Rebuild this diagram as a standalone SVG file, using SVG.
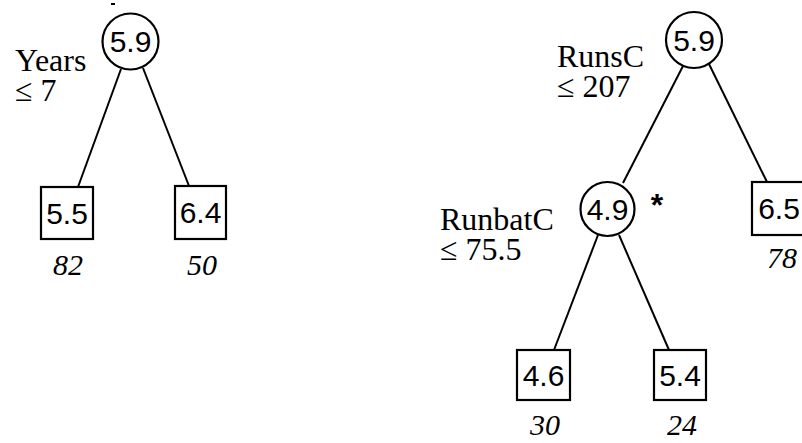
<svg xmlns="http://www.w3.org/2000/svg" width="802" height="443" viewBox="0 0 802 443">
<style>
.nd{fill:#fff;stroke:#000;stroke-width:2.2}
.val{font-family:"Liberation Sans",Arial,sans-serif;font-size:30px;text-anchor:middle;fill:#000}
.lab{font-family:"Liberation Serif","Times New Roman",serif;font-size:32px;fill:#000}
.cnt{font-family:"Liberation Serif","Times New Roman",serif;font-style:italic;font-size:30px;text-anchor:middle;fill:#000}
.edge{stroke:#000;stroke-width:2;fill:none}
</style>
<rect width="802" height="443" fill="#fff"/>
<rect x="111" y="3" width="4" height="2" fill="#000"/>
<g id="connectors">
<line class="edge" x1="121" y1="69" x2="78" y2="187"/>
<line class="edge" x1="143" y1="68" x2="189" y2="186"/>
<line class="edge" x1="683" y1="66" x2="623" y2="183"/>
<line class="edge" x1="709" y1="64" x2="767" y2="182"/>
<line class="edge" x1="598" y1="235" x2="554" y2="350"/>
<line class="edge" x1="619" y1="235" x2="669" y2="350"/>
</g>
<g id="n1">
<circle class="nd" cx="130.5" cy="41.5" r="28"/>
<text class="val" x="130.5" y="52">5.9</text>
<text class="lab" x="15" y="71">Years</text>
<text class="lab" x="15" y="101">≤ 7</text>
</g>
<g id="n2">
<rect class="nd" x="41" y="187" width="52" height="52"/>
<text class="val" x="67" y="224">5.5</text>
<text class="cnt" x="68" y="275">82</text>
</g>
<g id="n3">
<rect class="nd" x="175" y="186" width="51" height="53"/>
<text class="val" x="200.5" y="223">6.4</text>
<text class="cnt" x="202" y="275">50</text>
</g>
<g id="n4">
<circle class="nd" cx="694" cy="40" r="28"/>
<text class="val" x="694" y="51">5.9</text>
<text class="lab" x="557" y="67">RunsC</text>
<text class="lab" x="557" y="97">≤ 207</text>
</g>
<g id="n5">
<circle class="nd" cx="607.5" cy="209" r="27"/>
<text class="val" x="607.5" y="220">4.9</text>
<text x="657" y="216" font-family="Liberation Sans,sans-serif" font-size="32" font-weight="bold" text-anchor="middle">*</text>
<text class="lab" x="440" y="230">RunbatC</text>
<text class="lab" x="440" y="260">≤ 75.5</text>
</g>
<g id="n6">
<rect class="nd" x="752" y="182" width="60" height="53"/>
<text class="val" x="779" y="219">6.5</text>
<text class="cnt" x="782" y="268">78</text>
</g>
<g id="n7">
<rect class="nd" x="517" y="350" width="53" height="50"/>
<text class="val" x="543.5" y="386">4.6</text>
<text class="cnt" x="545" y="435">30</text>
</g>
<g id="n8">
<rect class="nd" x="654" y="350" width="52" height="50"/>
<text class="val" x="680" y="386">5.4</text>
<text class="cnt" x="682" y="435">24</text>
</g>
</svg>
